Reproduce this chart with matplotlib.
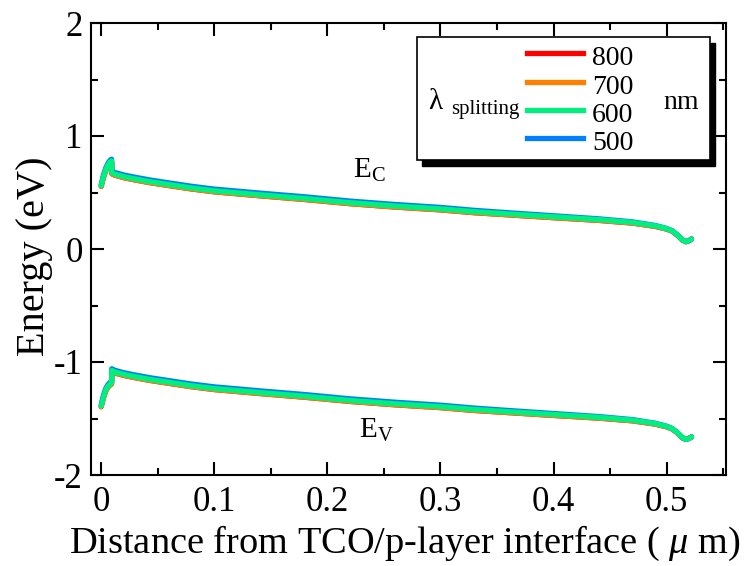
import matplotlib
matplotlib.use("Agg")
import matplotlib.pyplot as plt
from matplotlib.ticker import MultipleLocator, FuncFormatter
from matplotlib.patches import Rectangle
from matplotlib.lines import Line2D

plt.rcParams['font.family'] = ['Liberation Serif', 'DejaVu Serif']
plt.rcParams['mathtext.fontset'] = 'custom'
plt.rcParams['mathtext.rm'] = 'Liberation Serif'
plt.rcParams['mathtext.it'] = 'Liberation Serif:italic'
plt.rcParams['axes.unicode_minus'] = False

# ---------------- data ----------------
wavelengths = ["800", "700", "600", "500"]
colors = {"800": "#ff0000", "700": "#ff8000", "600": "#00f080", "500": "#0080ff"}

x = [0.0, 0.002, 0.004, 0.006, 0.008, 0.0092, 0.0094, 0.012, 0.02, 0.03, 0.043,
     0.06, 0.08, 0.1, 0.14, 0.18, 0.22, 0.26, 0.3, 0.33, 0.36, 0.4, 0.44, 0.47,
     0.49, 0.5, 0.505, 0.51, 0.514, 0.517, 0.52, 0.522]

ec_600 = [0.56, 0.64, 0.70, 0.745, 0.772, 0.78, 0.675, 0.662, 0.64, 0.62, 0.596,
          0.57, 0.54, 0.515, 0.48, 0.447, 0.41, 0.38, 0.355, 0.33, 0.31, 0.285, 0.26, 0.235,
          0.205, 0.18, 0.16, 0.12, 0.08, 0.065, 0.075, 0.088]
ec_500 = [0.57, 0.655, 0.715, 0.76, 0.787, 0.795, 0.69, 0.677, 0.655, 0.635, 0.611,
          0.585, 0.555, 0.53, 0.495, 0.462, 0.424, 0.394, 0.368, 0.342, 0.321, 0.294, 0.267, 0.24,
          0.208, 0.182, 0.161, 0.12, 0.08, 0.065, 0.075, 0.088]
ec_700 = [0.555, 0.634, 0.694, 0.739, 0.765, 0.773, 0.667, 0.654, 0.632, 0.612, 0.588,
          0.562, 0.532, 0.507, 0.472, 0.439, 0.402, 0.372, 0.347, 0.322, 0.303, 0.278, 0.254, 0.23,
          0.201, 0.177, 0.158, 0.119, 0.08, 0.065, 0.075, 0.088]
ec_800 = [0.554, 0.633, 0.693, 0.738, 0.764, 0.772, 0.666, 0.653, 0.631, 0.611, 0.587,
          0.561, 0.531, 0.506, 0.471, 0.438, 0.401, 0.371, 0.346, 0.321, 0.302, 0.277, 0.253, 0.229,
          0.2, 0.176, 0.157, 0.118, 0.079, 0.065, 0.075, 0.088]

ev_600 = [-1.39, -1.31, -1.25, -1.215, -1.195, -1.185, -1.075, -1.088, -1.11, -1.13, -1.154,
          -1.18, -1.21, -1.235, -1.27, -1.303, -1.34, -1.37, -1.395, -1.42, -1.44, -1.465, -1.49,
          -1.515, -1.545, -1.57, -1.59, -1.63, -1.67, -1.685, -1.675, -1.663]
ev_500 = [-1.38, -1.295, -1.235, -1.2, -1.18, -1.17, -1.06, -1.073, -1.095, -1.115, -1.139,
          -1.165, -1.195, -1.22, -1.255, -1.288, -1.326, -1.356, -1.382, -1.408, -1.429, -1.456,
          -1.483, -1.51, -1.542, -1.568, -1.589, -1.63, -1.67, -1.685, -1.675, -1.663]
ev_700 = [-1.395, -1.316, -1.256, -1.221, -1.202, -1.192, -1.083, -1.096, -1.118, -1.138,
          -1.162, -1.188, -1.218, -1.243, -1.278, -1.311, -1.348, -1.378, -1.403, -1.428, -1.447,
          -1.472, -1.496, -1.52, -1.549, -1.573, -1.592, -1.631, -1.67, -1.685, -1.675, -1.663]
ev_800 = [-1.396, -1.317, -1.257, -1.222, -1.203, -1.193, -1.084, -1.097, -1.119, -1.139,
          -1.163, -1.189, -1.219, -1.244, -1.279, -1.312, -1.349, -1.379, -1.404, -1.429, -1.448,
          -1.473, -1.497, -1.521, -1.55, -1.574, -1.593, -1.632, -1.671, -1.685, -1.675, -1.663]

ec = {"800": ec_800, "700": ec_700, "600": ec_600, "500": ec_500}
ev = {"800": ev_800, "700": ev_700, "600": ev_600, "500": ev_500}

xticks = [0, 0.1, 0.2, 0.3, 0.4, 0.5]
yticks = [-2, -1, 0, 1, 2]

# ---------------- figure ----------------
W, H = 746, 566
fig = plt.figure(figsize=(W / 100, H / 100), dpi=100)
L, R, T, B = 91, 726, 23, 475
ax = fig.add_axes([L / W, 1 - B / H, (R - L) / W, (B - T) / H])

lw = 3.8
for wl in ["800", "700", "500", "600"]:
    ax.plot(x, ec[wl], color=colors[wl], lw=lw, solid_capstyle='round')
    ax.plot(x, ev[wl], color=colors[wl], lw=lw, solid_capstyle='round')

ax.set_xlim(-0.009, 0.5525)
ax.set_ylim(-2, 2)
ax.set_xticks(xticks)
ax.set_yticks(yticks)
ax.xaxis.set_minor_locator(MultipleLocator(0.05))
ax.yaxis.set_minor_locator(MultipleLocator(0.5))
ax.xaxis.set_major_formatter(FuncFormatter(lambda v, p: "%g" % v))
ax.yaxis.set_major_formatter(FuncFormatter(lambda v, p: "%g" % v))
ax.tick_params(which='both', direction='in', top=True, right=True, width=1.5,
               labelsize=25)
ax.tick_params(axis='x', pad=8)
ax.tick_params(axis='y', pad=6)
ax.tick_params(which='major', length=9.5)
ax.tick_params(which='minor', length=5)
for s in ax.spines.values():
    s.set_linewidth(1.5)

# axis titles placed at measured pixel positions
fig.text(405 / W, 1 - 553 / H, "Distance from TCO/p-layer interface ( $\\mu$ m)",
         fontsize=27.6, ha='center', va='baseline')
fig.text(44 / W, 1 - 256 / H, "Energy (eV)", fontsize=29, rotation=90,
         rotation_mode='anchor', ha='center', va='baseline')

ax.text(0.223, 0.628, r'$\mathrm{E_C}$', fontsize=21, ha='left', va='baseline')
ax.text(0.228, -1.673, r'$\mathrm{E_V}$', fontsize=21, ha='left', va='baseline')

# ---------------- legend box (drawn manually) ----------------
def axx(px):
    return (px - L) / (R - L)

def axy(py):
    return (B - py) / (B - T)

bx0, bx1, by0, by1 = 417, 710, 37, 160
ax.add_patch(Rectangle((axx(bx0 + 5), axy(by1 + 6)), axx(bx1) - axx(bx0), axy(by0) - axy(by1),
                       transform=ax.transAxes, facecolor='black', edgecolor='black',
                       zorder=5, clip_on=False))
ax.add_patch(Rectangle((axx(bx0), axy(by1)), axx(bx1) - axx(bx0), axy(by0) - axy(by1),
                       transform=ax.transAxes, facecolor='white', edgecolor='black',
                       lw=1.2, zorder=6, clip_on=False))

rows_line = [52.7, 81.7, 110, 138.3]
rows_base = [65, 93.5, 122, 150.5]
for wl, yl, yb in zip(wavelengths, rows_line, rows_base):
    ax.add_line(Line2D([axx(527), axx(583)], [axy(yl), axy(yl)], transform=ax.transAxes,
                       color=colors[wl], lw=lw, zorder=7))
    ax.text(axx(592), axy(yb), wl, transform=ax.transAxes, fontsize=20,
            ha='left', va='baseline', zorder=7)

ax.text(axx(428), axy(109), "\u03bb", transform=ax.transAxes, fontsize=21,
        ha='left', va='baseline', zorder=7)
ax.text(axx(451), axy(114), "splitting", transform=ax.transAxes, fontsize=15,
        ha='left', va='baseline', zorder=7)
ax.text(axx(663), axy(109), "nm", transform=ax.transAxes, fontsize=20,
        ha='left', va='baseline', zorder=7)

fig.savefig("out.png", dpi=100)
